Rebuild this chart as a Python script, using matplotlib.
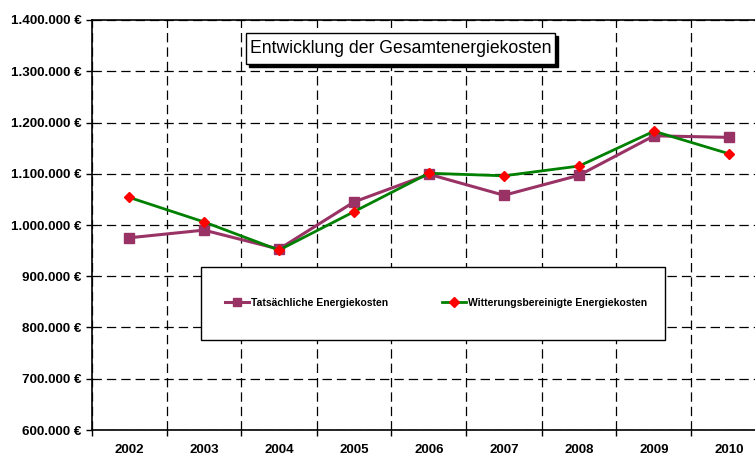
import matplotlib.pyplot as plt
from matplotlib.patches import Rectangle
from matplotlib.ticker import FuncFormatter, MultipleLocator

plt.rcParams['font.family'] = ['Liberation Sans', 'DejaVu Sans']

# Daten
jahre = ['2002', '2003', '2004', '2005', '2006', '2007', '2008', '2009', '2010']
tatsaechlich = [975000, 990000, 953000, 1045000, 1099000, 1058000, 1097000, 1174000, 1171000]
witterung = [1054000, 1006000, 951000, 1026000, 1101000, 1096000, 1115000, 1183000, 1139000]

W, H = 755, 455
fig = plt.figure(figsize=(W / 100, H / 100), dpi=100)


def fx(px):
    return px / W


def fy(py):
    return 1 - py / H


# Achsen: linker Rand bei 91.5 px, Kategorie-Abstand 75 px (rechts abgeschnitten)
ax = fig.add_axes([fx(91.5), fy(430), 675 / W, (430 - 20) / H])

x = list(range(len(jahre)))
ax.plot(x, tatsaechlich, color='#993366', linewidth=2.2, marker='s',
        markersize=7.5, label='Tatsächliche Energiekosten', zorder=3)
ax.plot(x, witterung, color='#008000', linewidth=2.0, marker='D',
        markersize=5.5, markerfacecolor='#ff0000', markeredgecolor='#ff0000',
        label='Witterungsbereinigte Energiekosten', zorder=4)

ax.set_xlim(-0.5, len(jahre) - 0.5)
ax.set_ylim(600000, 1400000)
ax.yaxis.set_major_locator(MultipleLocator(100000))
ax.yaxis.set_major_formatter(FuncFormatter(
    lambda v, p: f'{int(v):,} €'.replace(',', '.')))

ax.set_xticks(x)
ax.set_xticklabels(jahre, fontweight='bold', fontsize=9.5)
ax.set_xticks([i + 0.5 for i in range(-1, len(jahre))], minor=True)
ax.tick_params(axis='x', which='major', length=0, pad=10)
ax.tick_params(axis='x', which='minor', length=4, width=1, direction='out')
ax.tick_params(axis='y', length=4, width=1, direction='out', labelsize=9.7, pad=3)
for t in ax.get_yticklabels():
    t.set_fontweight('bold')

grid_style = dict(color='black', linestyle=(0, (7.5, 4)), linewidth=0.9)
ax.grid(True, which='major', axis='y', **grid_style)
ax.grid(True, which='minor', axis='x', **grid_style)
ax.set_axisbelow(True)
for s in ax.spines.values():
    s.set_linewidth(1.2)

# Titelbox mit Schatten
fig.patches.append(Rectangle((fx(249), fy(67)), fx(309), 31 / H, transform=fig.transFigure,
                             facecolor='black', edgecolor='black', zorder=5))
fig.patches.append(Rectangle((fx(246), fy(64)), fx(309), 31 / H, transform=fig.transFigure,
                             facecolor='white', edgecolor='black', linewidth=1, zorder=6))
fig.text(fx(400.5), fy(48.5), 'Entwicklung der Gesamtenergiekosten', ha='center', va='center',
         fontsize=12.7, zorder=7)

# Legendenbox
fig.patches.append(Rectangle((fx(201), fy(340)), fx(464), 73 / H, transform=fig.transFigure,
                             facecolor='white', edgecolor='black', linewidth=1, zorder=5))
leg = fig.legend(loc='center left', bbox_to_anchor=(fx(216), fy(303)), ncol=2,
                 frameon=False, prop={'weight': 'bold', 'size': 7.5}, handlelength=2.3,
                 handletextpad=0.15, columnspacing=5.2, markerscale=0.85)
leg.set_zorder(6)

fig.savefig('out.png', dpi=100)
